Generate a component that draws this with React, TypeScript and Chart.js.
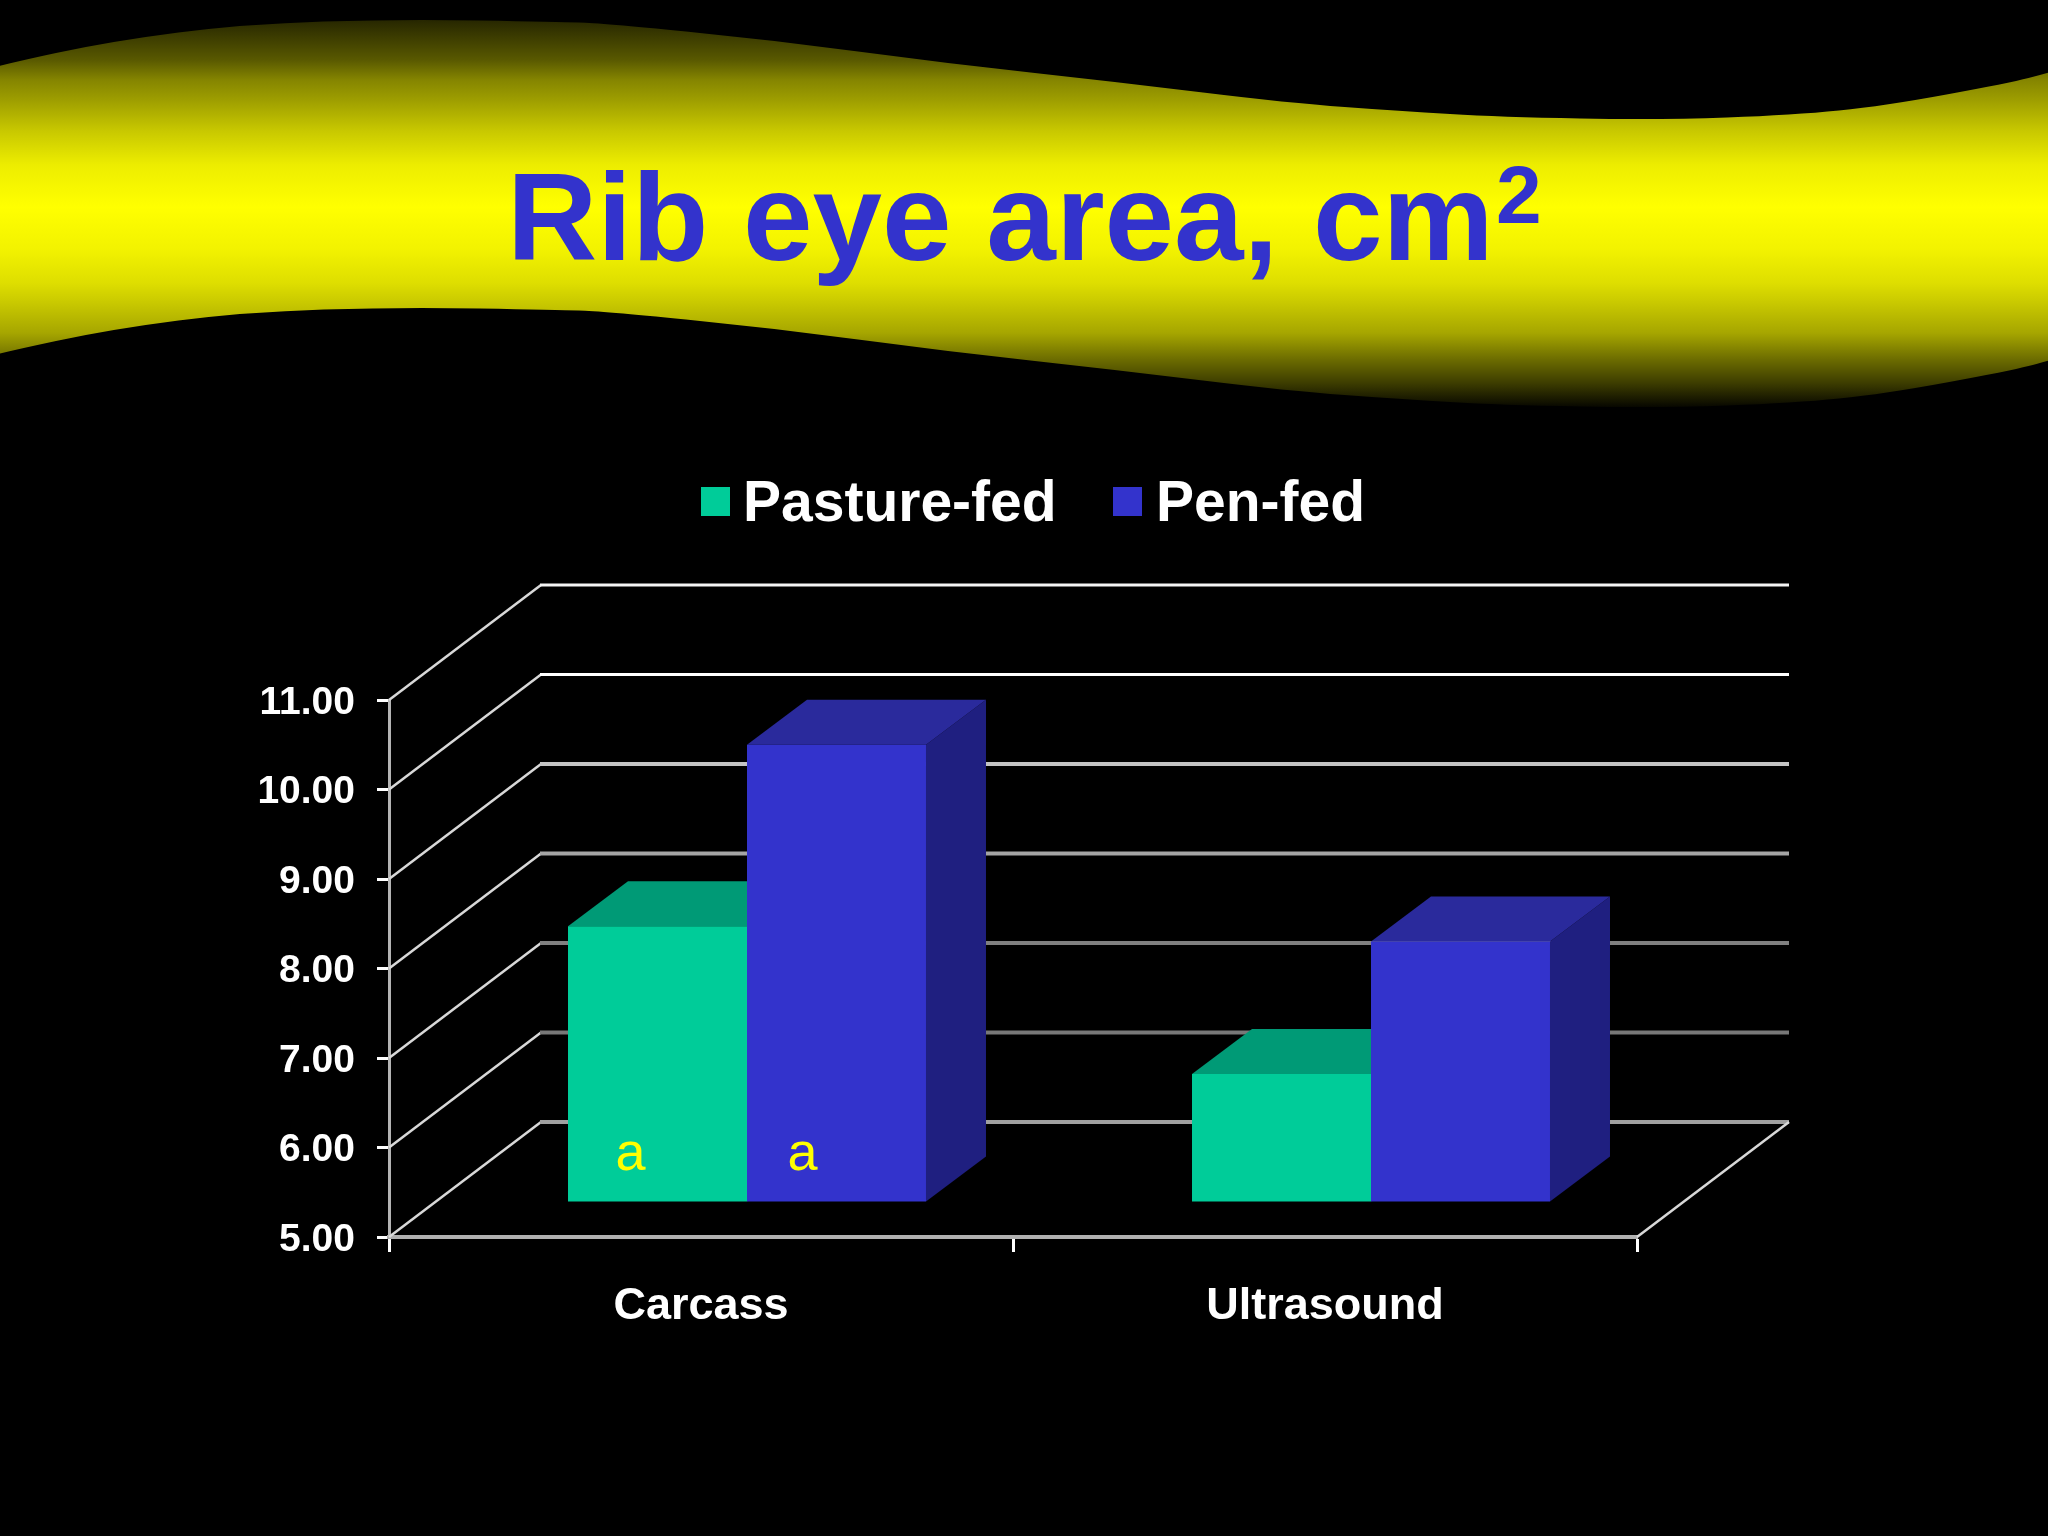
import { Chart, registerables } from 'chart.js';
import React, { useEffect, useRef } from 'react';

Chart.register(...registerables);

const categories = ['Carcass', 'Ultrasound'];
const seriesNames = ['Pasture-fed', 'Pen-fed'];
const pastureFed = [8.08, 6.43];
const penFed = [10.11, 7.91];
const yTickLabels = ['5.00', '6.00', '7.00', '8.00', '9.00', '10.00', '11.00'];
const barLetters = [['a', ''], ['a', '']];

const frontColors = ['#00cc99', '#3333cc'];
const topColors = ['#009a76', '#2a2a9c'];
const sideColors = ['#007a5c', '#1f1f80'];
const gridColors = ['#a0a0a0', '#787878', '#808080', '#a4a4a4', '#c4c4c4', '#ffffff', '#f4f4f4'];

const FONT = '"Liberation Sans", Arial, sans-serif';
const DEPTH_X = 152;
const DEPTH_Y = 115;
const BAR_DEPTH_X = 60;
const BAR_DEPTH_Y = 45;
const BAR_SHIFT_X = 46;
const BAR_SHIFT_Y = 35;

// upper edge of the yellow wave, the lower edge is the same curve moved down
const waveX = [-40, 0, 112, 245, 402, 558, 600, 772, 944, 1117, 1289, 1400, 1500, 1660, 1794, 1884, 2009, 2048, 2090];
const waveY = [76, 65, 41, 24, 19, 22, 23, 40, 63, 82, 103, 111, 117, 120, 115, 106, 83, 73, 60];
const WAVE_HEIGHT = 288;

const tracePart = (ctx: CanvasRenderingContext2D, offset: number, reverse: boolean) => {
  const xs = reverse ? [...waveX].reverse() : waveX;
  const ys = reverse ? [...waveY].reverse() : waveY;

  ctx.lineTo(xs[0], ys[0] + offset);

  for (let i = 1; i < xs.length - 1; i++) {
    ctx.quadraticCurveTo(xs[i], ys[i] + offset, (xs[i] + xs[i + 1]) / 2, (ys[i] + ys[i + 1]) / 2 + offset);
  }

  ctx.lineTo(xs[xs.length - 1], ys[ys.length - 1] + offset);
};

const slidePlugin = {
  id: 'slide',
  beforeDraw (chart: any) {
    const { ctx, width, height } = chart;

    ctx.save();
    ctx.fillStyle = '#000000';
    ctx.fillRect(0, 0, width, height);

    // yellow band, the gradient runs over the whole shape and not along the wave
    const gradient = ctx.createLinearGradient(0, 0, 0, 410);
    const stops = [[14, 0.12], [60, 0.35], [80, 0.52], [100, 0.62], [130, 0.78], [165, 0.93], [207, 1], [250, 0.95], [283, 0.87], [300, 0.8], [333, 0.65], [360, 0.42], [383, 0.24], [408, 0.02]];

    stops.forEach(([y, level]) => {
      const c = Math.round(255 * level);

      gradient.addColorStop(y / 410, `rgb(${c},${c},0)`);
    });
    ctx.fillStyle = gradient;
    ctx.beginPath();
    ctx.moveTo(waveX[0], waveY[0]);
    tracePart(ctx, 0, false);
    tracePart(ctx, WAVE_HEIGHT, true);
    ctx.closePath();
    ctx.fill();

    // title, the exponent is set smaller and higher by hand
    ctx.fillStyle = '#3333cc';
    ctx.textAlign = 'left';
    ctx.textBaseline = 'alphabetic';
    ctx.font = `bold 125px ${FONT}`;
    ctx.fillText('Rib eye area, cm', 507, 260);
    ctx.font = `bold 82px ${FONT}`;
    ctx.fillText('2', 1496, 223);

    // legend
    const boxX = [701, 1113];
    const labelX = [743, 1156];

    ctx.font = `bold 57px ${FONT}`;
    seriesNames.forEach((name, i) => {
      ctx.fillStyle = frontColors[i];
      ctx.fillRect(boxX[i], 487, 29, 29);
      ctx.fillStyle = '#ffffff';
      ctx.fillText(name, labelX[i], 521);
    });
    ctx.restore();
  },
  beforeDatasetsDraw (chart: any) {
    const { ctx, scales: { y } } = chart;
    const { left, right, bottom } = chart.chartArea;

    ctx.save();
    ctx.lineCap = 'butt';

    // walls and floor of the 3D box
    y.ticks.forEach((tick: any, i: number) => {
      const py = y.getPixelForValue(tick.value);

      ctx.strokeStyle = '#d8d8d8';
      ctx.lineWidth = 2.5;
      ctx.beginPath();
      ctx.moveTo(left, py);
      ctx.lineTo(left + DEPTH_X, py - DEPTH_Y);
      ctx.stroke();

      ctx.strokeStyle = gridColors[i];
      ctx.lineWidth = i > 4 ? 3 : 4;
      ctx.beginPath();
      ctx.moveTo(left + DEPTH_X - 1, py - DEPTH_Y);
      ctx.lineTo(right + DEPTH_X, py - DEPTH_Y);
      ctx.stroke();
    });

    ctx.strokeStyle = '#d8d8d8';
    ctx.lineWidth = 2.5;
    ctx.beginPath();
    ctx.moveTo(right, bottom);
    ctx.lineTo(right + DEPTH_X, bottom - DEPTH_Y);
    ctx.stroke();

    // top and side faces of the bars
    chart.data.datasets.forEach((_: any, d: number) => {
      chart.getDatasetMeta(d).data.forEach((bar: any) => {
        const x0 = bar.x - bar.width / 2 + BAR_SHIFT_X;
        const x1 = bar.x + bar.width / 2 + BAR_SHIFT_X;
        const top = bar.y - BAR_SHIFT_Y;
        const base = bar.base - BAR_SHIFT_Y;

        ctx.fillStyle = sideColors[d];
        ctx.beginPath();
        ctx.moveTo(x1, top);
        ctx.lineTo(x1 + BAR_DEPTH_X, top - BAR_DEPTH_Y);
        ctx.lineTo(x1 + BAR_DEPTH_X, base - BAR_DEPTH_Y);
        ctx.lineTo(x1, base);
        ctx.closePath();
        ctx.fill();

        ctx.fillStyle = topColors[d];
        ctx.beginPath();
        ctx.moveTo(x0, top);
        ctx.lineTo(x0 + BAR_DEPTH_X, top - BAR_DEPTH_Y);
        ctx.lineTo(x1 + BAR_DEPTH_X, top - BAR_DEPTH_Y);
        ctx.lineTo(x1, top);
        ctx.closePath();
        ctx.fill();
      });
    });
    ctx.restore();
  },
  // the fronts of the bars stand in front of the axis line, up and to the right
  beforeDatasetDraw (chart: any) {
    chart.ctx.save();
    chart.ctx.translate(BAR_SHIFT_X, -BAR_SHIFT_Y);
  },
  afterDatasetDraw (chart: any) {
    chart.ctx.restore();
  },
  afterDatasetsDraw (chart: any) {
    const { ctx } = chart;
    const letterOffset = [-27, -34];

    ctx.save();
    ctx.fillStyle = '#ffff00';
    ctx.font = `54px ${FONT}`;
    ctx.textAlign = 'center';
    ctx.textBaseline = 'alphabetic';
    barLetters.forEach((letters, d) => {
      chart.getDatasetMeta(d).data.forEach((bar: any, i: number) => {
        if (letters[i]) {
          ctx.fillText(letters[i], bar.x + BAR_SHIFT_X + letterOffset[d], bar.base - 67);
        }
      });
    });
    ctx.restore();
  }
};

const App = () => {
  const chartRef = useRef<HTMLCanvasElement>(null);

  useEffect(() => {
    const chartInstance = new Chart(chartRef.current as HTMLCanvasElement, {
      type: 'bar',
      data: {
        labels: categories,
        datasets: [
          { label: seriesNames[0], data: pastureFed, backgroundColor: frontColors[0], base: 5, clip: false },
          { label: seriesNames[1], data: penFed, backgroundColor: frontColors[1], base: 5, clip: false }
        ]
      },
      options: {
        animation: false,
        responsive: false,
        devicePixelRatio: 1,
        layout: { padding: { top: 700, right: 411, bottom: 0, left: 0 } },
        datasets: { bar: { categoryPercentage: 0.5737, barPercentage: 1 } },
        plugins: {
          legend: { display: false },
          title: { display: false },
          tooltip: { enabled: false }
        },
        scales: {
          x: {
            afterFit: (scale: any) => { scale.height = 299; },
            border: { color: '#b0b0b0', width: 4 },
            grid: { drawOnChartArea: false, tickColor: '#ffffff', tickLength: 15, tickWidth: 3 },
            ticks: { color: '#ffffff', font: { family: FONT, size: 45, weight: 'bold' }, maxRotation: 0, padding: 28 }
          },
          y: {
            afterFit: (scale: any) => { scale.width = 389; },
            min: 5,
            max: 11,
            border: { color: '#b4b4b4', width: 3 },
            grid: { drawOnChartArea: false, tickColor: '#ffffff', tickLength: 12, tickWidth: 3 },
            ticks: {
              stepSize: 1,
              color: '#ffffff',
              font: { family: FONT, size: 39, weight: 'bold' },
              labelOffset: 3,
              padding: 22,
              callback: (_: any, index: number) => yTickLabels[index]
            }
          }
        }
      },
      plugins: [slidePlugin]
    } as any);

    return () => {
      chartInstance.destroy();
    };
  }, []);

  return (
    <div style={{ background: '#000000', height: 1536, left: 0, position: 'fixed', top: 0, width: 2048 }}>
      <canvas height={1536} ref={chartRef} style={{ display: 'block' }} width={2048} />
    </div>
  );
};

export default App;
